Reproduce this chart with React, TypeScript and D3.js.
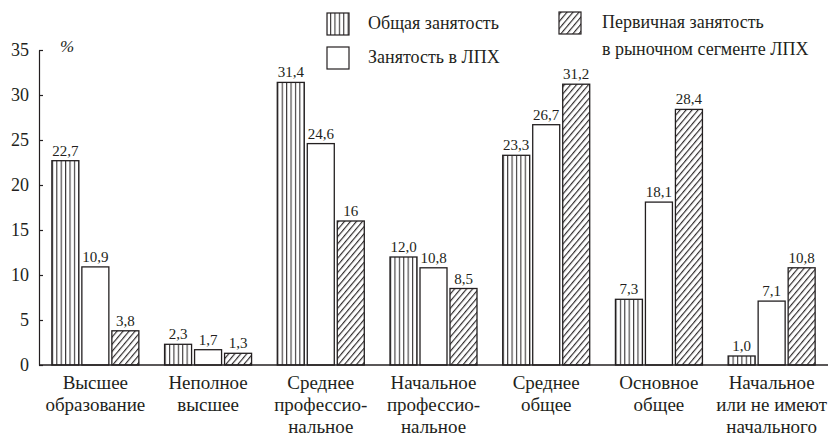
import React from "react";
import * as d3 from "d3";

const categories: string[][] = [
  ["Высшее", "образование"],
  ["Неполное", "высшее"],
  ["Среднее", "профессио-", "нальное"],
  ["Начальное", "профессио-", "нальное"],
  ["Среднее", "общее"],
  ["Основное", "общее"],
  ["Начальное", "или не имеют", "начального"],
];
const seriesNames = ["Общая занятость", "Занятость в ЛПХ", "Первичная занятость"];
const generalValues = [22.7, 2.3, 31.4, 12.0, 23.3, 7.3, 1.0];
const lphValues = [10.9, 1.7, 24.6, 10.8, 26.7, 18.1, 7.1];
const primaryValues = [3.8, 1.3, 16, 8.5, 31.2, 28.4, 10.8];
const generalLabels = ["22,7", "2,3", "31,4", "12,0", "23,3", "7,3", "1,0"];
const lphLabels = ["10,9", "1,7", "24,6", "10,8", "26,7", "18,1", "7,1"];
const primaryLabels = ["3,8", "1,3", "16", "8,5", "31,2", "28,4", "10,8"];
const yTicks = [0, 5, 10, 15, 20, 25, 30, 35];

const W = 840, H = 437;
const X0 = 39, X1 = 828, Y0 = 365, Y1 = 50;
const FONT = "Liberation Serif, Times New Roman, Tinos, DejaVu Serif, Noto Serif, serif";
const INK = "#231f20";

export default function App() {
  const idx = categories.map((_, i) => String(i));
  const x = d3.scaleBand<string>().domain(idx).range([X0, X1]).paddingInner(0).paddingOuter(0);
  const groupW = 87;
  const inner = d3.scaleBand<string>().domain(seriesNames).range([0, groupW]).paddingInner(0.1).paddingOuter(0);
  const y = d3.scaleLinear().domain([0, 35]).range([Y0, Y1]);

  const series = [
    { name: seriesNames[0], values: generalValues, labels: generalLabels, fill: "url(#vstripe)" },
    { name: seriesNames[1], values: lphValues, labels: lphLabels, fill: "#fff" },
    { name: seriesNames[2], values: primaryValues, labels: primaryLabels, fill: "url(#hatch)" },
  ];

  const yAxisRef = React.useRef<SVGGElement>(null);
  React.useEffect(() => {
    if (!yAxisRef.current) return;
    const g = d3.select(yAxisRef.current);
    g.call(d3.axisLeft(y).tickValues(yTicks).tickSizeInner(-4).tickSizeOuter(0).tickPadding(10).tickFormat(d3.format("d")) as any);
    g.attr("font-family", FONT).attr("font-size", 18);
    g.select(".domain").attr("stroke", INK).attr("stroke-width", 1.2);
    g.selectAll(".tick line").attr("stroke", INK).attr("stroke-width", 1.2);
    g.selectAll(".tick text").attr("fill", INK);
  }, []);

  return (
    <svg width={W} height={H} style={{ position: "absolute", left: 0, top: 0, background: "#fff", fontFamily: FONT }}>
      <defs>
        <pattern id="vstripe" patternUnits="userSpaceOnUse" width={4.4} height={10}>
          <rect width={4.4} height={10} fill="#fff" />
          <line x1={0.6} y1={0} x2={0.6} y2={10} stroke={INK} strokeWidth={1} />
        </pattern>
        <pattern id="hatch" patternUnits="userSpaceOnUse" width={4.6} height={10} patternTransform="rotate(40)">
          <rect width={4.6} height={10} fill="#fff" />
          <line x1={0.6} y1={0} x2={0.6} y2={10} stroke={INK} strokeWidth={1.1} />
        </pattern>
      </defs>
      <rect width={W} height={H} fill="#fff" />

      {/* bars */}
      {categories.map((_, i) => {
        const gx = (x(String(i)) as number) + (x.bandwidth() - groupW) / 2;
        return (
          <g key={i} transform={`translate(${gx},0)`}>
            {series.map((s) => {
              const bx = inner(s.name) as number;
              const by = y(s.values[i]);
              return (
                <g key={s.name}>
                  <rect x={bx} y={by} width={inner.bandwidth()} height={Y0 - by} fill={s.fill} stroke={INK} strokeWidth={1.3} />
                  <text x={bx + inner.bandwidth() / 2} y={by - 5} textAnchor="middle" fontFamily={FONT} fontSize={15} fill={INK}>
                    {s.labels[i]}
                  </text>
                </g>
              );
            })}
          </g>
        );
      })}

      {/* axes */}
      <g ref={yAxisRef} transform={`translate(${X0},0)`} />
      <line x1={X0} x2={X1} y1={Y0} y2={Y0} stroke={INK} strokeWidth={1.3} />
      <text x={60} y={52} fontFamily={FONT} fontSize={17} fontStyle="italic" fill={INK}>%</text>

      {/* category labels */}
      {categories.map((lines, i) => (
        <text key={i} x={(x(String(i)) as number) + x.bandwidth() / 2} y={389} textAnchor="middle" fontFamily={FONT} fontSize={19} fill={INK}>
          {lines.map((l, j) => (
            <tspan key={j} x={(x(String(i)) as number) + x.bandwidth() / 2} dy={j === 0 ? 0 : 22}>{l}</tspan>
          ))}
        </text>
      ))}

      {/* legend */}
      <g fontFamily={FONT} fontSize={18} fill={INK}>
        <rect x={327} y={13} width={22} height={22} fill="url(#vstripe)" stroke={INK} strokeWidth={1.2} />
        <text x={368} y={29}>{seriesNames[0]}</text>
        <rect x={327} y={47} width={22} height={22} fill="#fff" stroke={INK} strokeWidth={1.2} />
        <text x={368} y={63}>{seriesNames[1]}</text>
        <rect x={559} y={12} width={22} height={22} fill="url(#hatch)" stroke={INK} strokeWidth={1.2} />
        <text x={602} y={28}>{seriesNames[2]}</text>
        <text x={602} y={55}>в рыночном сегменте ЛПХ</text>
      </g>
    </svg>
  );
}
